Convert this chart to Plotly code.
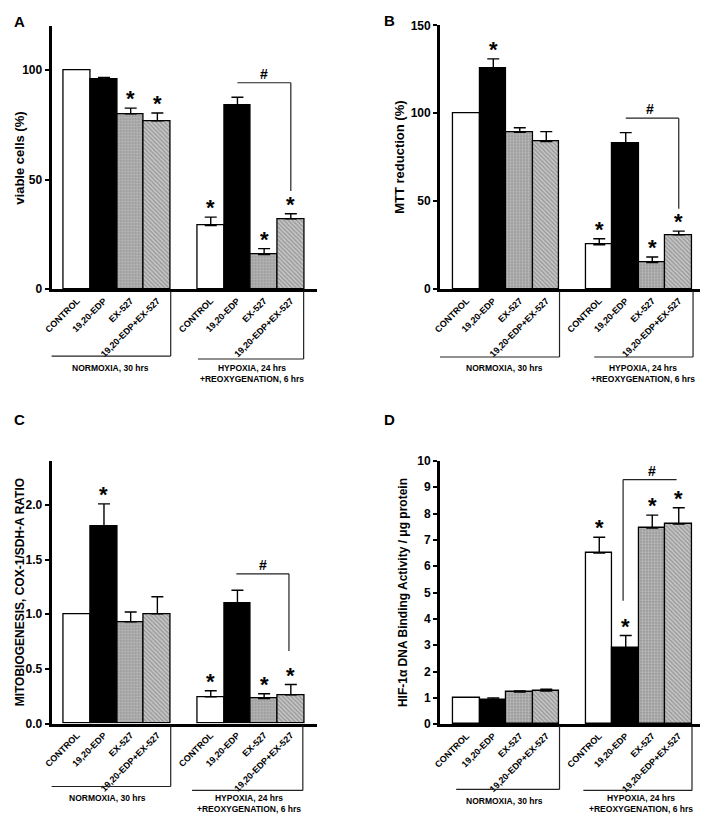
import plotly.graph_objects as go

# ---------------- data ----------------
categories = ["CONTROL", "19,20-EDP", "EX-527", "19,20-EDP+EX-527"]
positions = [0, 1, 2, 3, 5, 6, 7, 8]          # normoxia 0-3, hypoxia 5-8
group_labels = ["NORMOXIA, 30 hrs", "HYPOXIA, 24 hrs<br>+REOXYGENATION, 6 hrs"]

a_values = [100, 95.7, 80.0, 76.8, 29.0, 83.8, 15.8, 32.1]
a_errors = [None, 0.9, 2.6, 3.6, 3.9, 3.8, 2.7, 2.3]
a_stars = [2, 3, 4, 6, 7]

b_values = [100, 125.3, 89.2, 84.0, 25.3, 82.9, 15.1, 30.9]
b_errors = [None, 5.6, 2.6, 5.6, 3.4, 6.1, 3.2, 2.1]
b_stars = [1, 4, 6, 7]

c_values = [1.0, 1.805, 0.93, 1.005, 0.246, 1.10, 0.228, 0.264]
c_errors = [None, 0.205, 0.09, 0.155, 0.054, 0.12, 0.045, 0.093]
c_stars = [1, 4, 6, 7]

d_values = [1.0, 0.91, 1.22, 1.26, 6.5, 2.91, 7.45, 7.6]
d_errors = [None, 0.09, 0.05, 0.07, 0.6, 0.46, 0.49, 0.62]
d_stars = [4, 5, 6, 7]

# page has an 8px body margin: the figure is sized/offset to compensate
OFF = 8
W, H = 708 - OFF, 822 - OFF
FONT = "Liberation Sans, Arial, sans-serif"

panels = [
    dict(letter="A", vals=a_values, errs=a_errors, stars=a_stars,
         ytitle="viable cells (%)", tsize=13, yrange=[0, 120], tickvals=[0, 50, 100], fmt="{:.0f}",
         px=(44, 312), py=(287, 19.4), xr=[-0.963, 8.963], ytx=12, letter_xy=(12, 15),
         sig=dict(y=94.2, x0=6.0, x1=8.0, drop_x=8.0, drop_to=44.8, hx=7.0),
         gb=[(-1.0, 3.5, 355), (4.52, 8.48, 358)], gl=[(1.24, 360), (6.56, 360)]),
    dict(letter="B", vals=b_values, errs=b_errors, stars=b_stars,
         ytitle="MTT reduction (%)", tsize=13, yrange=[0, 150], tickvals=[0, 50, 100, 150], fmt="{:.0f}",
         px=(437, 704), py=(287, 18.5), xr=[-1.007, 8.955], ytx=396, letter_xy=(386, 14),
         sig=dict(y=97.2, x0=6.0, x1=8.0, drop_x=8.0, drop_to=45.8, hx=6.9),
         gb=[(-1.08, 3.5, 356), (4.81, 8.54, 356)], gl=[(1.42, 360), (6.64, 360)]),
    dict(letter="C", vals=c_values, errs=c_errors, stars=c_stars,
         ytitle="MITOBIOGENESIS, COX-1/SDH-A RATIO", tsize=12, yrange=[0, 2.4],
         tickvals=[0, 0.5, 1.0, 1.5, 2.0], fmt="{:.1f}",
         px=(44, 312), py=(729, 462), xr=[-0.963, 8.963], ytx=12, letter_xy=(12, 420),
         sig=dict(y=1.37, x0=5.96, x1=7.93, drop_x=7.93, drop_to=0.665, hx=6.95),
         gb=[(-1.0, 3.5, 793), (4.3, 8.45, 797)], gl=[(1.15, 798), (6.44, 798)]),
    dict(letter="D", vals=d_values, errs=d_errors, stars=d_stars,
         ytitle="HIF-1α DNA Binding Activity / μg protein", tsize=12, yrange=[0, 10],
         tickvals=list(range(0, 11)), fmt="{:.0f}",
         px=(437, 704), py=(729.7, 461.7), xr=[-1.007, 8.955], ytx=399, letter_xy=(386, 420),
         sig=dict(y=9.29, x0=5.9, x1=7.92, drop_x=5.9, drop_to=4.69, hx=6.98),
         gb=[(-0.4, 3.5, 796), (4.4, 8.5, 797)], gl=[(1.44, 801), (6.57, 798)]),
]

styles = [
    dict(color="white"),
    dict(color="black"),
    dict(color="#a8a8a8", pattern=dict(shape=".", fgcolor="#e4e4e4", bgcolor="#979797", size=3, solidity=0.45)),
    dict(color="#a0a0a0", pattern=dict(shape="\\", fgcolor="#6e6e6e", bgcolor="#c8c8c8", size=3, solidity=0.5)),
]

fig = go.Figure()
annotations = []
shapes = []

def fx(px):
    return (px - OFF) / W

def fy(py):
    return 1 - (py - OFF) / H

for i, p in enumerate(panels):
    sfx = "" if i == 0 else str(i + 1)
    xa, ya = "x" + sfx, "y" + sfx
    for j in range(8):
        st = styles[j % 4]
        marker = dict(color=st["color"], line=dict(color="black", width=1.3))
        if "pattern" in st:
            marker["pattern"] = st["pattern"]
        err = p["errs"][j]
        kw = {}
        if err is not None:
            kw["error_y"] = dict(type="data", symmetric=False, array=[err], arrayminus=[0],
                                 color="black", thickness=1.4, width=6)
        fig.add_trace(go.Bar(
            x=[positions[j]], y=[p["vals"][j]], width=1.0, marker=marker,
            showlegend=False, xaxis=xa, yaxis=ya, **kw))
    axis_font = dict(family=FONT, size=12, color="black", weight="bold")
    fig.layout["xaxis" + sfx] = dict(
        domain=[fx(p["px"][0]), fx(p["px"][1])], anchor=ya, range=p["xr"],
        tickvals=positions, ticktext=categories * 2, tickangle=-45,
        tickfont=dict(family=FONT, size=9, color="black", weight="bold"),
        showline=True, linecolor="black", linewidth=3, ticks="", showgrid=False,
        zeroline=False, fixedrange=True)
    fig.layout["yaxis" + sfx] = dict(
        domain=[fy(p["py"][0]), fy(p["py"][1])], anchor=xa, range=p["yrange"],
        tickvals=p["tickvals"], ticktext=[p["fmt"].format(v) for v in p["tickvals"]],
        tickfont=axis_font, showline=True, linecolor="black", linewidth=3,
        ticks="outside", ticklen=4, tickwidth=2, tickcolor="black",
        showgrid=False, zeroline=False, fixedrange=True)

    # stars
    for j in p["stars"]:
        annotations.append(dict(x=positions[j], y=p["vals"][j] + (p["errs"][j] or 0), xref=xa, yref=ya,
                                text="<b>*</b>", showarrow=False, yanchor="bottom", yshift=-5,
                                font=dict(family=FONT, size=22, color="black")))
    # significance bracket
    s = p["sig"]
    shapes.append(dict(type="line", xref=xa, yref=ya, x0=s["x0"], x1=s["x1"], y0=s["y"], y1=s["y"],
                       line=dict(color="#222", width=1.2)))
    shapes.append(dict(type="line", xref=xa, yref=ya, x0=s["drop_x"], x1=s["drop_x"], y0=s["y"],
                       y1=s["drop_to"], line=dict(color="#222", width=1.2)))
    annotations.append(dict(x=s["hx"], y=s["y"], xref=xa, yref=ya, text="<b>#</b>", showarrow=False,
                            yanchor="bottom", yshift=-1, font=dict(family=FONT, size=14, color="black")))
    # group brackets
    axis_bottom = p["py"][0] + 2
    for (x0, x1, yb) in p["gb"]:
        shapes.append(dict(type="line", xref=xa, yref="paper", x0=x0, x1=x1, y0=fy(yb), y1=fy(yb),
                           line=dict(color="#222", width=1.2)))
        shapes.append(dict(type="line", xref=xa, yref="paper", x0=x1, x1=x1, y0=fy(axis_bottom),
                           y1=fy(yb), line=dict(color="#222", width=1.2)))
    for (gx, gy), txt in zip(p["gl"], group_labels):
        annotations.append(dict(x=gx, y=fy(gy), xref=xa, yref="paper", text="<b>" + txt + "</b>",
                                showarrow=False, yanchor="top", xanchor="center", align="center",
                                font=dict(family=FONT, size=8.5, color="black")))
    # y title
    annotations.append(dict(x=fx(p["ytx"]), y=fy((p["py"][0] + p["py"][1]) / 2), xref="paper",
                            yref="paper", text="<b>" + p["ytitle"] + "</b>", textangle=-90,
                            showarrow=False, xanchor="center", yanchor="middle",
                            font=dict(family=FONT, size=p["tsize"], color="black")))
    # panel letter
    lx, ly = p["letter_xy"]
    annotations.append(dict(x=fx(lx), y=fy(ly), xref="paper", yref="paper", text="<b>" + p["letter"] + "</b>",
                            showarrow=False, xanchor="center", yanchor="middle",
                            font=dict(family=FONT, size=15, color="black")))

fig.update_layout(
    width=W, height=H, autosize=False, margin=dict(l=0, r=0, t=0, b=0),
    paper_bgcolor="white", plot_bgcolor="white", barmode="overlay", bargap=0,
    annotations=annotations, shapes=shapes, showlegend=False,
)

fig.write_html("out.html")
